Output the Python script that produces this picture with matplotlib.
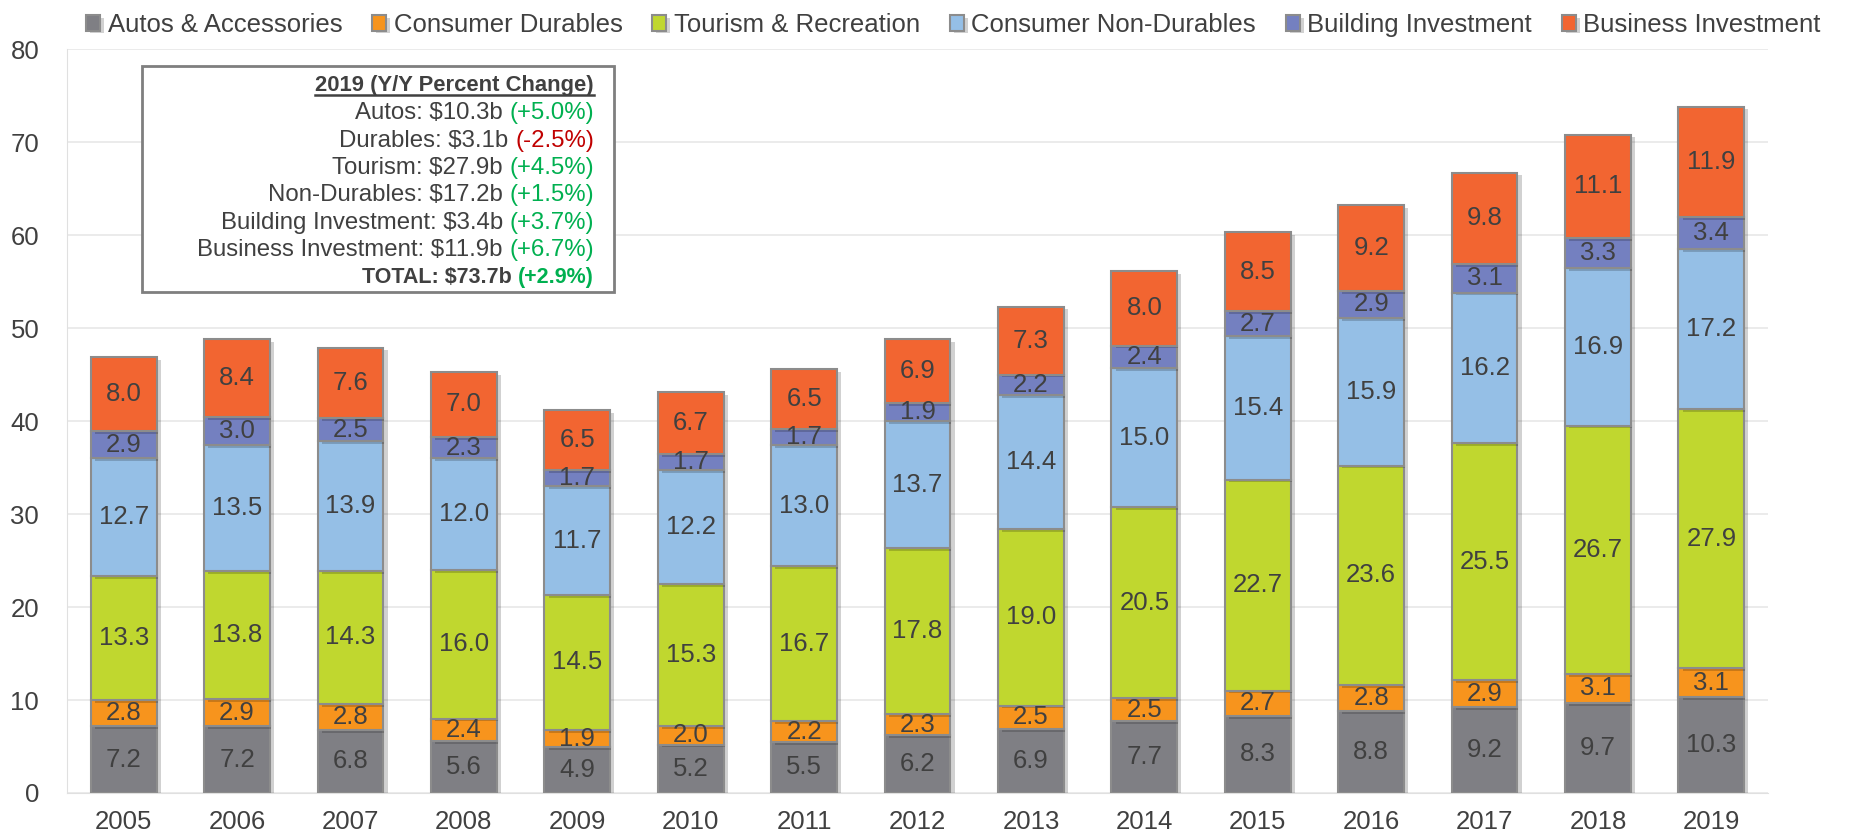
import numpy as np
import matplotlib
matplotlib.use('Agg')
import matplotlib.pyplot as plt
from matplotlib.patches import Rectangle
import matplotlib.patheffects as pe

plt.rcParams['font.family'] = ['Liberation Sans', 'DejaVu Sans']

# data
years = [str(y) for y in range(2005, 2020)]
autos = [7.2, 7.2, 6.8, 5.6, 4.9, 5.2, 5.5, 6.2, 6.9, 7.7, 8.3, 8.8, 9.2, 9.7, 10.3]
durables = [2.8, 2.9, 2.8, 2.4, 1.9, 2.0, 2.2, 2.3, 2.5, 2.5, 2.7, 2.8, 2.9, 3.1, 3.1]
tourism = [13.3, 13.8, 14.3, 16.0, 14.5, 15.3, 16.7, 17.8, 19.0, 20.5, 22.7, 23.6, 25.5, 26.7, 27.9]
nondurables = [12.7, 13.5, 13.9, 12.0, 11.7, 12.2, 13.0, 13.7, 14.4, 15.0, 15.4, 15.9, 16.2, 16.9, 17.2]
building = [2.9, 3.0, 2.5, 2.3, 1.7, 1.7, 1.7, 1.9, 2.2, 2.4, 2.7, 2.9, 3.1, 3.3, 3.4]
business = [8.0, 8.4, 7.6, 7.0, 6.5, 6.7, 6.5, 6.9, 7.3, 8.0, 8.5, 9.2, 9.8, 11.1, 11.9]

series = [autos, durables, tourism, nondurables, building, business]
names = ['Autos & Accessories', 'Consumer Durables', 'Tourism & Recreation',
         'Consumer Non-Durables', 'Building Investment', 'Business Investment']
colors = ['#7f7f84', '#f7941d', '#c0d72f', '#95bfe6', '#7480c0', '#f26531']

# summary box lines (black part, coloured part, colour)
box_lines = [
    ('Autos: $10.3b ', '(+5.0%)', '#00b050'),
    ('Durables: $3.1b ', '(-2.5%)', '#c00000'),
    ('Tourism: $27.9b ', '(+4.5%)', '#00b050'),
    ('Non-Durables: $17.2b ', '(+1.5%)', '#00b050'),
    ('Building Investment: $3.4b ', '(+3.7%)', '#00b050'),
    ('Business Investment: $11.9b ', '(+6.7%)', '#00b050'),
]
total_line = ('TOTAL: $73.7b ', '(+2.9%)', '#00b050')

txt = '#404040'
fig = plt.figure(figsize=(18.51, 8.38), dpi=100)
ax = fig.add_axes([0.0362, 0.0537, 0.9190, 0.8878])

x = np.arange(len(years))
bottom = np.zeros(len(years))
shadow = [pe.SimplePatchShadow(offset=(3, -2), shadow_rgbFace='#000000', alpha=0.18), pe.Normal()]
for vals, name, c in zip(series, names, colors):
    vals = np.array(vals)
    bars = ax.bar(x, vals, 0.58, bottom=bottom, color=c, edgecolor='#8c8c8c',
                  linewidth=1.5, label=name, zorder=3)
    for p in bars:
        p.set_path_effects(shadow)
    for xi, b, v in zip(x, bottom, vals):
        ax.text(xi, b + v / 2, f'{v:.1f}', ha='center', va='center',
                fontsize=18.5, color=txt, zorder=4)
    bottom += vals

ax.set_xlim(-0.5, len(years) - 0.5)
ax.set_ylim(0, 80)
ax.set_yticks(range(0, 81, 10))
ax.set_xticks(x)
ax.set_xticklabels(years)
ax.tick_params(axis='both', length=0, labelsize=18.5, labelcolor=txt)
ax.tick_params(axis='x', pad=12)
ax.tick_params(axis='y', pad=20)
ax.grid(axis='y', color='#e8e8e8', linewidth=1.2, zorder=0)
for s in ['top', 'right']:
    ax.spines[s].set_visible(False)
ax.spines['left'].set_color('#e0e0e0')
ax.spines['bottom'].set_color('#e0e0e0')

fig.legend(loc='upper center', bbox_to_anchor=(0.515, 1.012), ncol=6, frameon=False,
           fontsize=18.5, handlelength=0.55, handleheight=0.55, handletextpad=0.3,
           columnspacing=1.15, labelcolor=txt)

# summary box
fig.patches.append(Rectangle((142 / 1851, 1 - 292 / 838), 472 / 1851, 226 / 838,
                             transform=fig.transFigure, fill=True, facecolor='white',
                             edgecolor='#7f7f7f', linewidth=2, zorder=5))
fig.canvas.draw()
r = fig.canvas.get_renderer()
xr = 594 / 1851
y0 = 1 - 86 / 838
dy = 27.3 / 838
t = fig.text(xr, y0, '2019 (Y/Y Percent Change)', ha='right', va='center',
             fontsize=15.8, fontweight='bold', color=txt, zorder=6)
bb = t.get_window_extent(r).transformed(fig.transFigure.inverted())
fig.add_artist(plt.Line2D([bb.x0, bb.x1], [bb.y0 + 0.002, bb.y0 + 0.002],
                          color=txt, linewidth=1.8, transform=fig.transFigure, zorder=6))
for i, (a, b, c) in enumerate(box_lines + [total_line]):
    bold = i == len(box_lines)
    w = 'bold' if bold else 'normal'
    fs = 15.5 if bold else 17.3
    yy = y0 - dy * (i + 1)
    t2 = fig.text(xr, yy, b, ha='right', va='center', fontsize=fs,
                  fontweight=w, color=c, zorder=6)
    bb2 = t2.get_window_extent(r).transformed(fig.transFigure.inverted())
    fig.text(bb2.x0, yy, a, ha='right', va='center', fontsize=fs,
             fontweight=w, color=txt, zorder=6)

fig.savefig('out.png', dpi=100)
